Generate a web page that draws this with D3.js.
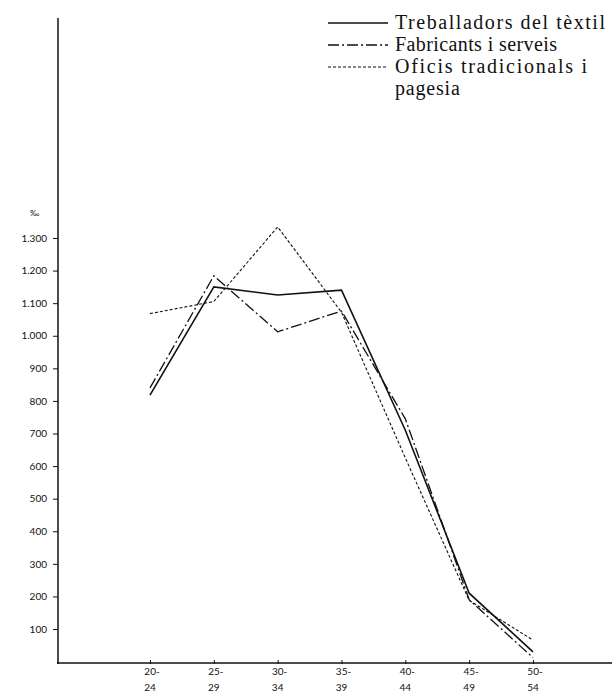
<!DOCTYPE html>
<html>
<head>
<meta charset="utf-8">
<script src="https://cdn.jsdelivr.net/npm/d3@7"></script>
<style>
  body { margin: 0; background: #fff; }
  svg { display: block; }
</style>
</head>
<body>
<svg width="612" height="699"></svg>
<script>
// age groups (two-line labels)
const ageGroups = ["20-24", "25-29", "30-34", "35-39", "40-44", "45-49", "50-54"];
const ageTop = ["20-", "25-", "30-", "35-", "40-", "45-", "50-"];
const ageBottom = ["24", "29", "34", "39", "44", "49", "54"];

const textil = [818, 1150, 1125, 1140, 710, 210, 30];
const fabricants = [840, 1184, 1012, 1076, 745, 190, 12];
const oficis = [1068, 1105, 1334, 1072, 625, 188, 66];

const seriesNames = ["Treballadors del tèxtil", "Fabricants i serveis", "Oficis tradicionals i"];
const yTicks = [100, 200, 300, 400, 500, 600, 700, 800, 900, 1000, 1100, 1200, 1300];

const svg = d3.select("svg");
const ink = "#111";

const x = d3.scalePoint().domain(ageGroups).range([150, 533]);
const y = d3.scaleLinear().domain([0, 1300]).range([661.6, 238]);

const fmt = d3.formatLocale({ decimal: ",", thousands: ".", grouping: [3], currency: ["", ""] }).format(",d");

// y axis
const yAxis = svg.append("g")
  .attr("transform", "translate(58,0)")
  .call(d3.axisLeft(y).tickValues(yTicks).tickSize(5).tickPadding(6).tickFormat(fmt));
yAxis.select(".domain").remove();
yAxis.selectAll("line").attr("stroke", ink).attr("stroke-width", 1);
yAxis.selectAll("text")
  .attr("font-family", "Lato, 'DejaVu Sans', sans-serif")
  .attr("font-size", 10)
  .attr("fill", ink);

svg.append("line")
  .attr("x1", 58).attr("x2", 58)
  .attr("y1", 18).attr("y2", 664)
  .attr("stroke", ink).attr("stroke-width", 1.5);

svg.append("text")
  .attr("x", 30).attr("y", 216)
  .attr("font-family", "Lato, sans-serif")
  .attr("font-size", 8)
  .attr("fill", ink)
  .text("‰");

// x axis
const xAxis = svg.append("g")
  .attr("transform", "translate(0,663)")
  .call(d3.axisBottom(x).tickSize(3).tickFormat(""));
xAxis.select(".domain").remove();
xAxis.selectAll("line").attr("stroke", ink).attr("y1", -3).attr("y2", 1);

svg.append("line")
  .attr("x1", 57).attr("x2", 612)
  .attr("y1", 663).attr("y2", 663)
  .attr("stroke", ink).attr("stroke-width", 1.3);

const xl = svg.append("g")
  .attr("font-family", "Lato, 'DejaVu Sans', sans-serif")
  .attr("font-size", 10)
  .attr("fill", ink)
  .attr("text-anchor", "middle");
xl.selectAll(".t1").data(ageGroups).join("text")
  .attr("x", d => x(d) + 2).attr("y", 675)
  .text((d, i) => ageTop[i]);
xl.selectAll(".t2").data(ageGroups).join("text")
  .attr("x", d => x(d)).attr("y", 691)
  .text((d, i) => ageBottom[i]);

// lines
const line = d3.line().x((d, i) => x(ageGroups[i])).y(d => y(d));
const styles = [
  { data: textil, dash: null, w: 1.6 },
  { data: fabricants, dash: "11,3,2,3", w: 1.3 },
  { data: oficis, dash: "3,2", w: 1.1 }
];
styles.forEach(s => {
  svg.append("path")
    .attr("d", line(s.data))
    .attr("fill", "none")
    .attr("stroke", ink)
    .attr("stroke-width", s.w)
    .attr("stroke-dasharray", s.dash);
});

// legend
const lg = svg.append("g");
const rowY = [23, 45, 67];
const rowLen = [210, 162, 192];
styles.forEach((s, i) => {
  lg.append("line")
    .attr("x1", 328).attr("x2", 388)
    .attr("y1", rowY[i]).attr("y2", rowY[i])
    .attr("stroke", ink)
    .attr("stroke-width", s.w)
    .attr("stroke-dasharray", s.dash);
  lg.append("text")
    .attr("x", 395).attr("y", rowY[i] + 6)
    .attr("font-family", "'Liberation Serif', serif")
    .attr("font-size", 20)
    .attr("fill", ink)
    .attr("textLength", rowLen[i])
    .attr("lengthAdjust", "spacing")
    .text(seriesNames[i]);
});
lg.append("text")
  .attr("x", 395).attr("y", 95)
  .attr("font-family", "'Liberation Serif', serif")
  .attr("font-size", 20)
  .attr("fill", ink)
  .attr("letter-spacing", 0.8)
  .text("pagesia");
</script>
</body>
</html>
